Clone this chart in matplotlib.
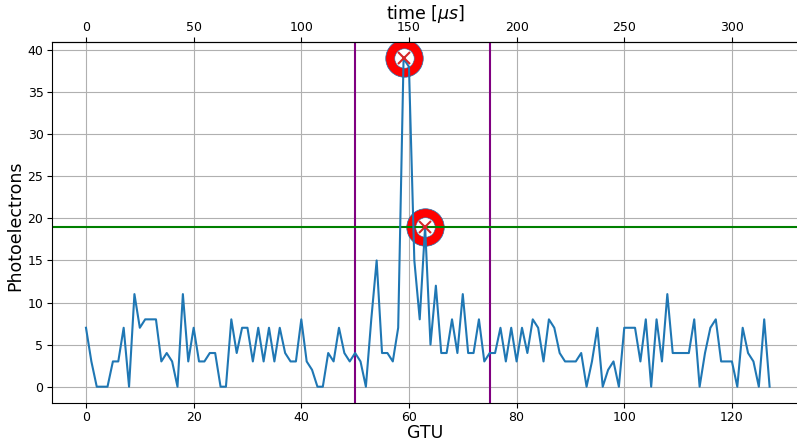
import matplotlib
matplotlib.use("Agg")
import matplotlib.pyplot as plt
import numpy as np

# photoelectron counts per GTU (128 frames)
counts = [7, 3, 0, 0, 0, 3, 3, 7, 0, 11, 7, 8, 8, 8, 3, 4, 3, 0, 11, 3,
          7, 3, 3, 4, 4, 0, 0, 8, 4, 7, 7, 3, 7, 3, 7, 3, 7, 4, 3, 3,
          8, 3, 2, 0, 0, 4, 3, 7, 4, 3, 4, 3, 0, 8, 15, 4, 4, 3, 7, 39,
          38, 15, 8, 19, 5, 12, 4, 4, 8, 4, 11, 4, 4, 8, 3, 4, 4, 7, 3, 7,
          3, 7, 4, 8, 7, 3, 8, 7, 4, 3, 3, 3, 4, 0, 3, 7, 0, 2, 3, 0,
          7, 7, 7, 3, 8, 0, 8, 3, 11, 4, 4, 4, 4, 8, 0, 4, 7, 8, 3, 3,
          3, 0, 7, 4, 3, 0, 8, 0]
gtu = np.arange(len(counts))

window = [50, 75]        # trigger window (GTU)
threshold = 19           # photoelectron threshold
peaks_gtu = [59, 63]     # detected peaks
gtu_us = 2.5             # one GTU in microseconds

fig = plt.figure(figsize=(7.97, 4.42), dpi=100)
ax = fig.add_axes([0.065, 0.088, 0.9435, 0.817])

peak_vals = [counts[i] for i in peaks_gtu]
ax.plot(peaks_gtu, peak_vals, 'o', ms=27, mfc='red', mec='C0', mew=0.5, zorder=2)
ax.plot(peaks_gtu, peak_vals, 'o', ms=14, mfc='white', mec='C0', mew=0.4, zorder=2.1)
ax.plot(gtu, counts, color='C0', lw=1.5, zorder=3)
ax.plot(peaks_gtu, peak_vals, 'x', ms=8, mew=1.5, color='tab:red', zorder=4)

for w in window:
    ax.axvline(w, color='purple', lw=1.5, zorder=2.5)
ax.axhline(threshold, color='green', lw=1.5, zorder=2.5)

ax.tick_params(labelsize=9, pad=2.5)
ax.set_xlabel("GTU", fontsize=12.5)
ax.set_ylabel("Photoelectrons", fontsize=12.5)
ax.xaxis.set_label_coords((425 - 52) / 752, -0.058)
ax.yaxis.set_label_coords(-0.037, 0.49)
ax.grid(True)

top = ax.secondary_xaxis('top', functions=(lambda x: x * gtu_us, lambda t: t / gtu_us))
top.tick_params(labelsize=9, pad=2.5)
top.set_xlabel(r"time [$\mu s$]", fontsize=12.5, labelpad=1)
top.xaxis.label.set_x((426 - 52) / 752)

fig.savefig("out.png", dpi=100)
